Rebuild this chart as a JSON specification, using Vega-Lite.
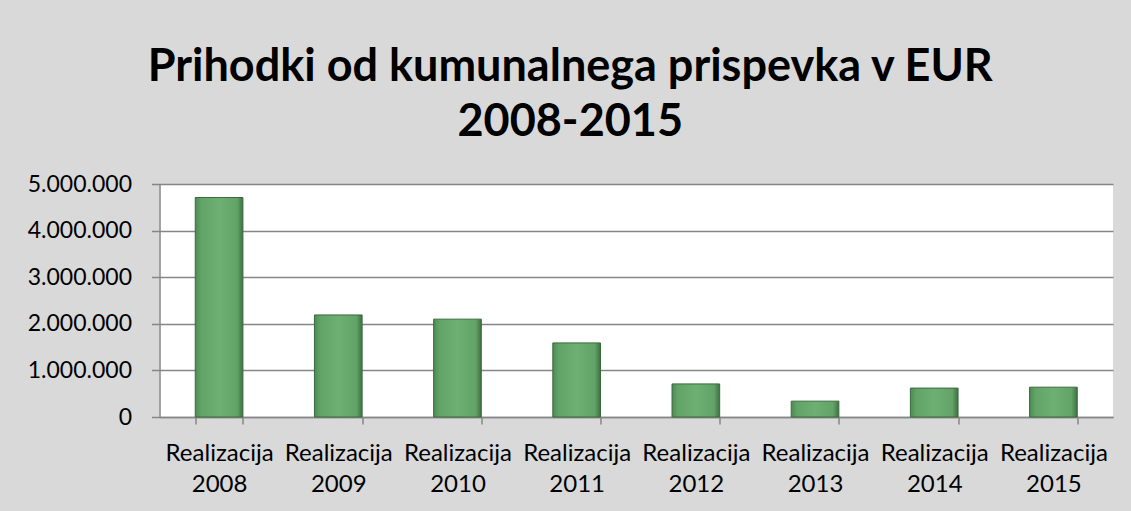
{
  "$schema": "https://vega.github.io/schema/vega-lite/v6.json",
  "autosize": "none",
  "width": 953.5,
  "height": 233,
  "padding": {"left": 159.5, "top": 184, "right": 17.5, "bottom": 94},
  "background": "#D9D9D9",
  "title": {
    "text": ["Prihodki od kumunalnega prispevka v EUR", "2008-2015"],
    "anchor": "middle",
    "frame": "group",
    "dx": -66,
    "offset": 28,
    "font": "Lato",
    "fontSize": 45,
    "fontWeight": "bold",
    "color": "#000000",
    "lineHeight": 55
  },
  "data": {
    "values": [
      {"kategorija": "Realizacija 2008", "prihodki": 4710000},
      {"kategorija": "Realizacija 2009", "prihodki": 2190000},
      {"kategorija": "Realizacija 2010", "prihodki": 2100000},
      {"kategorija": "Realizacija 2011", "prihodki": 1590000},
      {"kategorija": "Realizacija 2012", "prihodki": 710000},
      {"kategorija": "Realizacija 2013", "prihodki": 340000},
      {"kategorija": "Realizacija 2014", "prihodki": 620000},
      {"kategorija": "Realizacija 2015", "prihodki": 640000}
    ]
  },
  "mark": {
    "type": "bar",
    "color": {
      "gradient": "linear",
      "x1": 0, "y1": 0, "x2": 1, "y2": 0,
      "stops": [
        {"offset": 0, "color": "#4E8A53"},
        {"offset": 0.12, "color": "#62A367"},
        {"offset": 0.5, "color": "#6DB072"},
        {"offset": 0.88, "color": "#62A367"},
        {"offset": 1, "color": "#3F7043"}
      ]
    },
    "stroke": "#3A6A3E",
    "strokeWidth": 1
  },
  "encoding": {
    "x": {
      "field": "kategorija",
      "type": "nominal",
      "sort": null,
      "scale": {"paddingInner": 0.6, "paddingOuter": 0.3},
      "axis": {
        "title": null,
        "labelAngle": 0,
        "labelExpr": "split(datum.label, ' ')",
        "labelFont": "Lato",
        "labelFontSize": 24,
        "labelColor": "#000000",
        "labelLineHeight": 31,
        "labelPadding": 17,
        "labelBaseline": "top",
        "tickBand": "extent",
        "tickSize": 7,
        "tickColor": "#868686",
        "tickWidth": 1.5,
        "domainColor": "#868686",
        "domainWidth": 1.5
      }
    },
    "y": {
      "field": "prihodki",
      "type": "quantitative",
      "scale": {"domain": [0, 5000000], "nice": false},
      "axis": {
        "title": null,
        "values": [0, 1000000, 2000000, 3000000, 4000000, 5000000],
        "format": ",d",
        "labelFont": "Lato",
        "labelFontSize": 23,
        "labelColor": "#000000",
        "labelPadding": 20,
        "tickSize": 8,
        "tickColor": "#868686",
        "tickWidth": 1.5,
        "domainColor": "#868686",
        "domainWidth": 1.5,
        "grid": true,
        "gridColor": "#868686",
        "gridWidth": 1.5
      }
    }
  },
  "config": {
    "locale": {
      "number": {
        "decimal": ",",
        "thousands": ".",
        "grouping": [3],
        "currency": ["", " €"]
      }
    },
    "view": {"fill": "#FFFFFF", "stroke": null}
  }
}
